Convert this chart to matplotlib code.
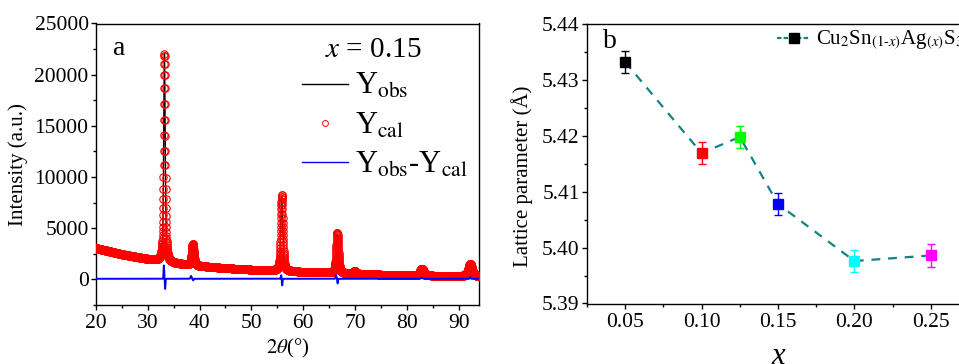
import matplotlib
matplotlib.use("Agg")
import matplotlib.pyplot as plt
from matplotlib.lines import Line2D
from matplotlib.ticker import MultipleLocator, FormatStrFormatter
import numpy as np

plt.rcParams['font.family'] = ['Liberation Serif', 'DejaVu Serif']
plt.rcParams['mathtext.fontset'] = 'stix'

# ── (a) Rietveld refinement of the x = 0.15 pattern ──────────────
BG_2THETA = [20, 25, 30, 35, 40, 45, 50, 55, 60, 65, 70, 75, 80, 85, 90, 94]
BG_COUNTS = [3050, 2450, 1980, 1580, 1300, 1100, 950, 830, 730, 640, 540, 470, 410, 360, 320, 300]

# reflections: position (deg), height above background, FWHM (deg)
PEAK_POS    = [33.22, 38.68, 55.87, 66.58, 69.95, 82.90, 92.25]
PEAK_HEIGHT = [20300, 2050, 7400, 3900, 250, 680, 1200]
PEAK_FWHM   = [0.34, 0.48, 0.44, 0.48, 0.65, 0.80, 0.85]
PEAK_ETA    = 0.6

# misfit spikes in the difference curve: position, amplitude, width
DIFF_POS   = [33.10, 33.35, 38.35, 38.75, 55.75, 55.95, 66.35, 66.65, 82.90, 92.25]
DIFF_AMP   = [1300, -1000, 280, -150, 350, -650, 350, -450, 120, 180]
DIFF_WIDTH = [0.08, 0.08, 0.15, 0.10, 0.08, 0.08, 0.12, 0.08, 0.20, 0.12]
DIFF_BASE  = 60

# ── (b) lattice parameter vs Ag content ──────────────────────────
X_AG     = [0.05, 0.10, 0.125, 0.15, 0.20, 0.25]
LATTICE  = [5.4332, 5.4169, 5.4198, 5.4078, 5.3976, 5.3986]
LAT_ERR  = [0.0020, 0.0020, 0.0020, 0.0020, 0.0020, 0.0020]
PT_COLORS = ["black", "red", "#00ff00", "blue", "cyan", "magenta"]
TEAL = "#148282"


def pseudo_voigt(t, pos, height, fwhm, eta):
    hw = fwhm / 2.0
    lor = 1.0 / (1.0 + ((t - pos) / hw) ** 2)
    gau = np.exp(-np.log(2) * ((t - pos) / hw) ** 2)
    return height * (eta * lor + (1 - eta) * gau)


tt = np.arange(20.0, 94.0, 0.02)
y_cal = np.interp(tt, BG_2THETA, BG_COUNTS)
for p, h, w in zip(PEAK_POS, PEAK_HEIGHT, PEAK_FWHM):
    y_cal += pseudo_voigt(tt, p, h, w, PEAK_ETA)

y_diff = np.full_like(tt, DIFF_BASE, dtype=float)
for p, a, w in zip(DIFF_POS, DIFF_AMP, DIFF_WIDTH):
    y_diff += a * np.exp(-((tt - p) / w) ** 2)
y_obs = y_cal + y_diff - DIFF_BASE

fig = plt.figure(figsize=(9.59, 3.64), dpi=100)
ax1 = fig.add_axes([96 / 959, 59 / 364, 383.3 / 959, 281.5 / 364])
ax2 = fig.add_axes([587 / 959, 60.5 / 364, 382 / 959, 279.5 / 364])

for ax in (ax1, ax2):
    for s in ax.spines.values():
        s.set_linewidth(1.0)
    ax.tick_params(which="both", direction="out", width=1.0, labelsize=15.5,
                   top=False, right=False)
    ax.tick_params(which="major", length=3.8)
    ax.tick_params(which="minor", length=2.2)
    ax.tick_params(axis="y", pad=1.5)
    ax.tick_params(axis="x", pad=3)

# ── panel a ──
ax1.plot(tt, y_obs, color="black", lw=1.0, zorder=2)
ax1.plot(tt, y_cal, "o", mfc="none", mec="red", ms=5.3, mew=0.8, zorder=3)
ax1.plot(tt, y_diff, color="blue", lw=1.4, zorder=4)

ax1.set_xlim(20, 94)
ax1.set_ylim(-2500, 25000)
ax1.xaxis.set_major_locator(MultipleLocator(10))
ax1.xaxis.set_minor_locator(MultipleLocator(5))
ax1.yaxis.set_major_locator(MultipleLocator(5000))
ax1.yaxis.set_minor_locator(MultipleLocator(2500))

ax1.set_ylabel("Intensity (a.u.)", fontsize=15)
ax1.yaxis.set_label_coords((28 - 96) / 383.3, 0.5)
ax1.set_xlabel(r"$\mathit{2}\theta$(°)", fontsize=15)
ax1.xaxis.set_label_coords(0.5, -0.114)

ax1.text((113 - 96) / 383.3, (305 - 55) / 281.5, "a", fontsize=20,
         ha="left", va="baseline", transform=ax1.transAxes)
ax1.text((373 - 96) / 383.3, (305 - 56.7) / 281.5, r"$x$ = 0.15", fontsize=21,
         ha="center", va="baseline", transform=ax1.transAxes)

handles_a = [
    Line2D([], [], color="black", lw=1.0),
    Line2D([], [], ls="none", marker="o", mfc="none", mec="red", ms=4.2, mew=0.7),
    Line2D([], [], color="blue", lw=1.0),
]
labels_a = [r"Y$_{\rm obs}$", r"Y$_{\rm cal}$", r"Y$_{\rm obs}$-Y$_{\rm cal}$"]
ax1.legend(handles_a, labels_a, loc="upper left",
           bbox_to_anchor=((302 - 96) / 383.3, (305 - 72) / 281.5),
           frameon=False, fontsize=22, borderpad=0, borderaxespad=0,
           handlelength=1.5, handletextpad=0.25, labelspacing=0.33)

# ── panel b ──
ax2.plot(X_AG, LATTICE, color=TEAL, lw=1.6, dashes=(4, 3.5), zorder=1)
for xv, yv, ev, c in zip(X_AG, LATTICE, LAT_ERR, PT_COLORS):
    ax2.errorbar(xv, yv, yerr=ev, fmt="s", color=c, mfc=c, mec=c, ms=7.5,
                 capsize=3, elinewidth=1.0, capthick=1.0, zorder=3)

ax2.set_xlim(0.025, 0.275)
ax2.set_ylim(5.39, 5.44)
ax2.xaxis.set_major_locator(MultipleLocator(0.05))
ax2.xaxis.set_minor_locator(MultipleLocator(0.025))
ax2.yaxis.set_major_locator(MultipleLocator(0.01))
ax2.yaxis.set_minor_locator(MultipleLocator(0.005))
ax2.xaxis.set_major_formatter(FormatStrFormatter("%.2f"))
ax2.yaxis.set_major_formatter(FormatStrFormatter("%.2f"))

ax2.set_ylabel("Lattice parameter (Å)", fontsize=15)
ax2.yaxis.set_label_coords((533 - 587) / 382, 0.455)
fig.text(778 / 959, 0.0, "x", fontsize=22, style="italic",
         ha="center", va="baseline")

ax2.text((603 - 587) / 382, (303.5 - 48) / 279.5, "b", fontsize=20,
         ha="left", va="baseline", transform=ax2.transAxes)

handle_b = Line2D([], [], color=TEAL, lw=1.6, dashes=(2, 1), marker="s",
                  mfc="black", mec="black", ms=7.5)
ax2.legend([handle_b],
           [r"Cu$_2$Sn$_{(1\text{-}x)}$Ag$_{(x)}$S$_3$"],
           loc="upper left",
           bbox_to_anchor=((777 - 587) / 382, (303.5 - 29) / 279.5),
           frameon=False, fontsize=15, borderpad=0, borderaxespad=0,
           handlelength=1.6, handletextpad=0.25)

fig.savefig("out.png", dpi=100)
